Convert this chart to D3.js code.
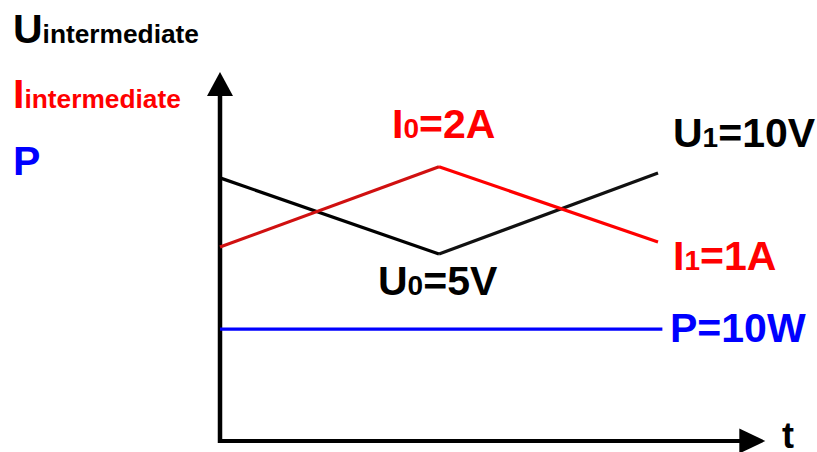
<!DOCTYPE html>
<html>
<head>
<meta charset="utf-8">
<script src="https://cdn.jsdelivr.net/npm/d3@7"></script>
<style>
  body { margin: 0; background: #fff; }
  text { font-family: Arial, "Liberation Sans", sans-serif; font-weight: bold; }
</style>
</head>
<body>
<script>
// time points and signal levels (schematic units)
var times = [0, 1, 2];
var uValues = [7.15, 5.08, 7.28];
var iValues = [5.27, 7.45, 5.41];
var pTimes = [0, 2.02];
var pValues = [3.04, 3.04];

// axis extents (arrow tips)
var tMax = 2.49;
var levelMax = 10;

var width = 817, height = 452;

var x = d3.scaleLinear().domain([0, 2]).range([220, 658]);
var y = d3.scaleLinear().domain([0, 10]).range([441, 73]);

var svg = d3.select("body").append("svg")
    .attr("width", width)
    .attr("height", height);

var line = d3.line()
    .x(function(d) { return x(d[0]); })
    .y(function(d) { return y(d[1]); });

// axes
svg.append("path")
    .attr("d", "M" + x(0) + "," + (y(0) + 2) + "V" + (y(levelMax) + 23))
    .attr("stroke", "#000").attr("stroke-width", 4.5).attr("fill", "none");
svg.append("path")
    .attr("d", "M" + (x(0) - 2) + "," + y(0) + "H" + (x(tMax) - 24))
    .attr("stroke", "#000").attr("stroke-width", 4).attr("fill", "none");

// arrow heads
svg.append("path")
    .attr("d", "M" + x(0) + "," + (y(levelMax) - 1) +
               "L" + (x(0) + 13) + "," + (y(levelMax) + 23) +
               "L" + (x(0) - 13) + "," + (y(levelMax) + 23) + "Z")
    .attr("fill", "#000");
svg.append("path")
    .attr("d", "M" + x(tMax) + "," + y(0) +
               "L" + (x(tMax) - 26) + "," + (y(0) - 12.5) +
               "L" + (x(tMax) - 26) + "," + (y(0) + 12.5) + "Z")
    .attr("fill", "#000");

// P line
svg.append("path")
    .datum(d3.zip(pTimes, pValues))
    .attr("d", line)
    .attr("stroke", "#0000ff").attr("stroke-width", 3.2).attr("fill", "none");

// U line (two segments)
var uPts = d3.zip(times, uValues);
svg.append("path").datum(uPts.slice(0, 2)).attr("d", line)
    .attr("stroke", "#000").attr("stroke-width", 3.2).attr("fill", "none");
svg.append("path").datum(uPts.slice(1)).attr("d", line)
    .attr("stroke", "#111").attr("stroke-width", 3.2).attr("fill", "none");

// I line (two segments)
var iPts = d3.zip(times, iValues);
svg.append("path").datum(iPts.slice(0, 2)).attr("d", line)
    .attr("stroke", "#d01010").attr("stroke-width", 3.2).attr("fill", "none");
svg.append("path").datum(iPts.slice(1)).attr("d", line)
    .attr("stroke", "#ff0000").attr("stroke-width", 3.2).attr("fill", "none");

// labels with small tail text
function label(px, py, color, big, small, rest, smallSize) {
  var t = svg.append("text")
      .attr("x", px).attr("y", py)
      .attr("fill", color)
      .style("font-size", "41px");
  t.append("tspan").text(big);
  if (small) t.append("tspan").style("font-size", smallSize + "px").text(small);
  if (rest) t.append("tspan").text(rest);
}

label(13, 43, "#000", "U", "intermediate", null, 26.3);
label(13, 108, "#ff0000", "I", "intermediate", null, 26.3);
label(13, 175, "#0000ff", "P", null, null, 26);

label(392, 138, "#ff0000", "I", "0", "=2A", 28);
label(378, 295, "#000", "U", "0", "=5V", 28);
label(673, 147, "#000", "U", "1", "=10V", 28);
label(673, 270, "#ff0000", "I", "1", "=1A", 28);
label(670, 342, "#0000ff", "P=10W", null, null, 28);

svg.append("text")
    .attr("x", 782).attr("y", 448)
    .attr("fill", "#000")
    .style("font-size", "36px")
    .text("t");
</script>
</body>
</html>
